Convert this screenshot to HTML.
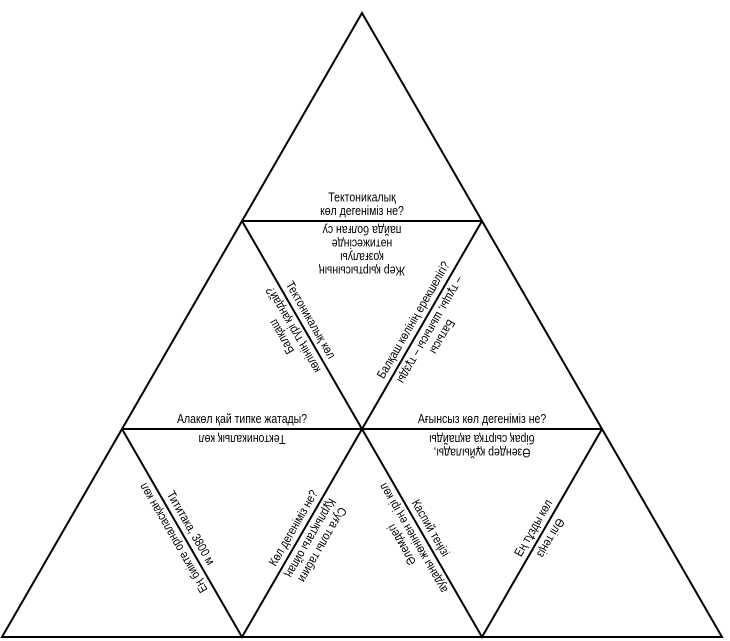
<!DOCTYPE html>
<html><head><meta charset="utf-8"><style>
html,body{margin:0;padding:0;background:#fff;}
svg{display:block;}
text{font-family:"Liberation Sans","DejaVu Sans Condensed",sans-serif;font-size:12.5px;fill:#000;text-anchor:middle;}
</style></head><body>
<svg width="730" height="641" viewBox="0 0 730 641" xmlns="http://www.w3.org/2000/svg">
<g stroke="#000" stroke-width="2" fill="none" stroke-linejoin="miter">
<polygon points="362,13 722,637 2,637"/>
<line x1="242" y1="221" x2="482" y2="221"/>
<line x1="122" y1="429" x2="602" y2="429"/>
<polyline points="242,221 362,429 482,221"/>
<polyline points="122,429 242,637 362,429 482,637 602,429"/>
</g>

<g transform="translate(362,221) scale(0.84,1)">
<text x="0" y="-19.5">Тектоникалық</text>
<text x="0" y="-6">көл дегеніміз не?</text>
</g>
<g transform="translate(362,221) rotate(180) scale(0.84,1)">
<text x="0" y="-45.5">Жер қыртысының</text>
<text x="0" y="-32">қозғалуы</text>
<text x="0" y="-18.5">нәтижесінде</text>
<text x="0" y="-5">пайда болған су</text>
</g>

<g transform="translate(242,429) scale(0.84,1)"><text x="0" y="-6">Алакөл қай типке жатады?</text></g>
<g transform="translate(242,429) rotate(180) scale(0.84,1)"><text x="0" y="-6">Тектоникалық көл</text></g>
<g transform="translate(482,429) scale(0.84,1)"><text x="0" y="-6">Ағынсыз көл дегеніміз не?</text></g>
<g transform="translate(482,429) rotate(180) scale(0.84,1)">
<text x="0" y="-19.5">Өзендер құйылады,</text>
<text x="0" y="-6">бірақ сыртқа ақпайды</text>
</g>

<g transform="translate(302,325) rotate(60) scale(0.84,1)"><text x="0" y="-6">Тектоникалық көл</text></g>
<g transform="translate(302,325) rotate(240) scale(0.84,1)">
<text x="0" y="-19.5">Балқаш</text>
<text x="0" y="-6">көлінің түрі қандай?</text>
</g>

<g transform="translate(422,325) rotate(-60) scale(0.84,1)"><text x="0" y="-6">Балқаш көлінің ерекшелігі?</text></g>
<g transform="translate(422,325) rotate(120) scale(0.84,1)">
<text x="0" y="-19.5">Батысы</text>
<text x="0" y="-6">– тұщы, шығысы – тұзды</text>
</g>

<g transform="translate(182,533) rotate(60) scale(0.84,1)"><text x="0" y="-6">Тититака, 3800 м</text></g>
<g transform="translate(182,533) rotate(240) scale(0.84,1)"><text x="0" y="-6">Ең биікте орналасқан көл</text></g>

<g transform="translate(302,533) rotate(-60) scale(0.84,1)"><text x="0" y="-6">Көл дегеніміз не?</text></g>
<g transform="translate(302,533) rotate(120) scale(0.84,1)">
<text x="0" y="-19.5">Суға толы табиғи</text>
<text x="0" y="-6">Құрлықтағы ойпаң</text>
</g>

<g transform="translate(422,533) rotate(60) scale(0.84,1)"><text x="0" y="-6">Каспий теңізі</text></g>
<g transform="translate(422,533) rotate(240) scale(0.84,1)">
<text x="0" y="-19.5">Әлемдегі</text>
<text x="0" y="-6">ауданы жөнінен ең ірі көл</text>
</g>

<g transform="translate(542,533) rotate(-60) scale(0.84,1)"><text x="0" y="-6">Ең тұзды көл</text></g>
<g transform="translate(542,533) rotate(120) scale(0.84,1)"><text x="0" y="-6">Өлі теңіз</text></g>
</svg>
</body></html>
